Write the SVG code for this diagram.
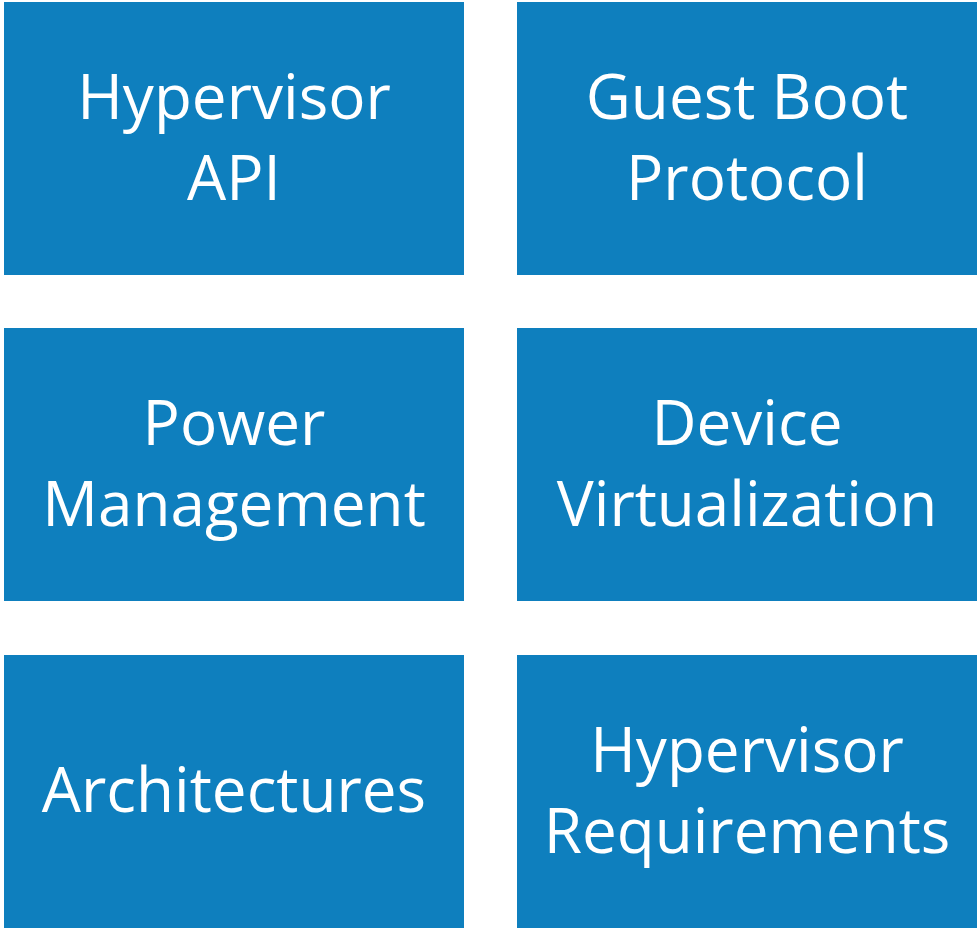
<svg xmlns="http://www.w3.org/2000/svg" width="979" height="929" viewBox="0 0 979 929">
<style>
.box{fill:#0E7FBE}
.t{fill:#ffffff;font-family:"Open Sans","Noto Sans",sans-serif;font-size:62px;text-anchor:middle}
</style>
<rect width="979" height="929" fill="#ffffff"/>
<g id="hypervisor-api"><rect class="box" x="4" y="2" width="460" height="273"/><text class="t" x="234" y="119">Hypervisor</text><text class="t" x="234" y="200">API</text></g>
<g id="guest-boot-protocol"><rect class="box" x="517" y="2" width="460" height="273"/><text class="t" x="747" y="119">Guest Boot</text><text class="t" x="747" y="200">Protocol</text></g>
<g id="power-management"><rect class="box" x="4" y="328" width="460" height="273"/><text class="t" x="234" y="445">Power</text><text class="t" x="234" y="526">Management</text></g>
<g id="device-virtualization"><rect class="box" x="517" y="328" width="460" height="273"/><text class="t" x="747" y="445">Device</text><text class="t" x="747" y="526">Virtualization</text></g>
<g id="architectures"><rect class="box" x="4" y="655" width="460" height="273"/><text class="t" x="234" y="812">Architectures</text></g>
<g id="hypervisor-requirements"><rect class="box" x="517" y="655" width="460" height="273"/><text class="t" x="747" y="772">Hypervisor</text><text class="t" x="747" y="853">Requirements</text></g>
<g id="connectors"/>
</svg>
